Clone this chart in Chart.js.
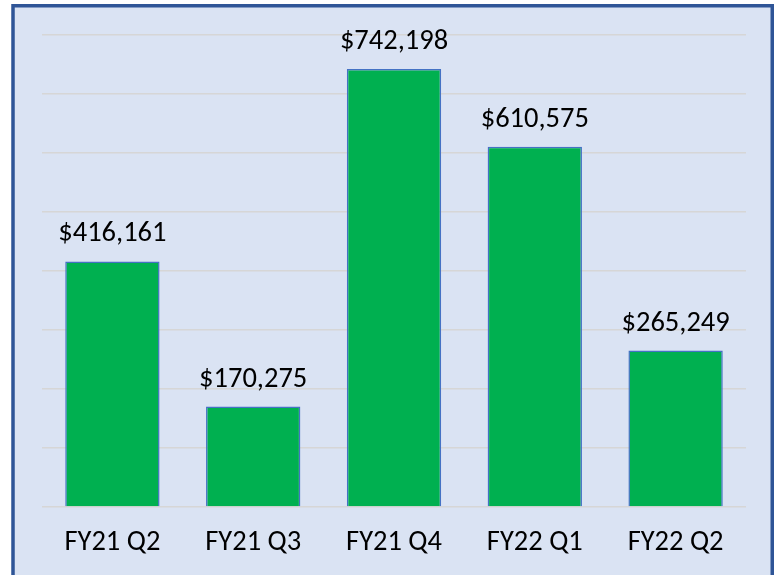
<!DOCTYPE html>
<html>
<head>
<meta charset="utf-8">
<script src="https://cdn.jsdelivr.net/npm/chart.js@4"></script>
<style>
  html, body { margin: 0; padding: 0; background: #ffffff; }
  #wrap { position: relative; width: 774px; height: 575px; }
</style>
</head>
<body>
<div id="wrap"><canvas id="quarterChart" width="774" height="575"></canvas></div>
<script>
// Chart data
const quarters = ['FY21 Q2', 'FY21 Q3', 'FY21 Q4', 'FY22 Q1', 'FY22 Q2'];
const amounts = [416161, 170275, 742198, 610575, 265249];
const axisMax = 800000;
const axisStep = 100000;

const fontFamily = 'Carlito, Calibri, Lato, sans-serif';
const fontSize = 28.5;

// Light blue panel with a dark blue frame
const framePlugin = {
    id: 'frame',
    beforeDraw(chart) {
        const ctx = chart.ctx;
        ctx.save();
        ctx.fillStyle = '#ffffff';
        ctx.fillRect(0, 0, chart.width, chart.height);
        ctx.fillStyle = '#dae3f3';
        ctx.fillRect(13, 6, chart.width - 15, chart.height);
        ctx.strokeStyle = '#2f5597';
        ctx.lineWidth = 3.5;
        ctx.strokeRect(13, 5.75, chart.width - 14.75, chart.height + 20);
        ctx.restore();
    }
};

// Dollar labels above each bar
const valueLabels = {
    id: 'valueLabels',
    afterDatasetsDraw(chart) {
        const ctx = chart.ctx;
        const meta = chart.getDatasetMeta(0);
        ctx.save();
        ctx.font = fontSize + 'px ' + fontFamily;
        ctx.fillStyle = '#000000';
        ctx.textAlign = 'center';
        ctx.textBaseline = 'alphabetic';
        meta.data.forEach((bar, i) => {
            ctx.fillText('$' + amounts[i].toLocaleString('en-US'), bar.x, bar.y - 20);
        });
        ctx.restore();
    }
};

const ctx = document.getElementById('quarterChart').getContext('2d');
new Chart(ctx, {
    type: 'bar',
    data: {
        labels: quarters,
        datasets: [{
            data: amounts,
            backgroundColor: '#00b050',
            borderColor: '#4472c4',
            borderWidth: 1.5,
            categoryPercentage: 1,
            barPercentage: 0.67
        }]
    },
    options: {
        responsive: false,
        animation: false,
        layout: { padding: { left: 42, right: 28, top: 35, bottom: 15 } },
        plugins: {
            legend: { display: false },
            tooltip: { enabled: false }
        },
        scales: {
            x: {
                grid: { display: false, drawTicks: false },
                border: { display: false },
                ticks: {
                    padding: 19,
                    maxRotation: 0,
                    color: '#000000',
                    font: { family: fontFamily, size: fontSize }
                },
                afterFit(scale) { scale.height = 53; }
            },
            y: {
                min: 0,
                max: axisMax,
                grid: { color: '#d6d6d6', lineWidth: 1.5, drawTicks: false },
                border: { display: false },
                ticks: { display: false, stepSize: axisStep }
            }
        }
    },
    plugins: [framePlugin, valueLabels]
});
</script>
</body>
</html>
